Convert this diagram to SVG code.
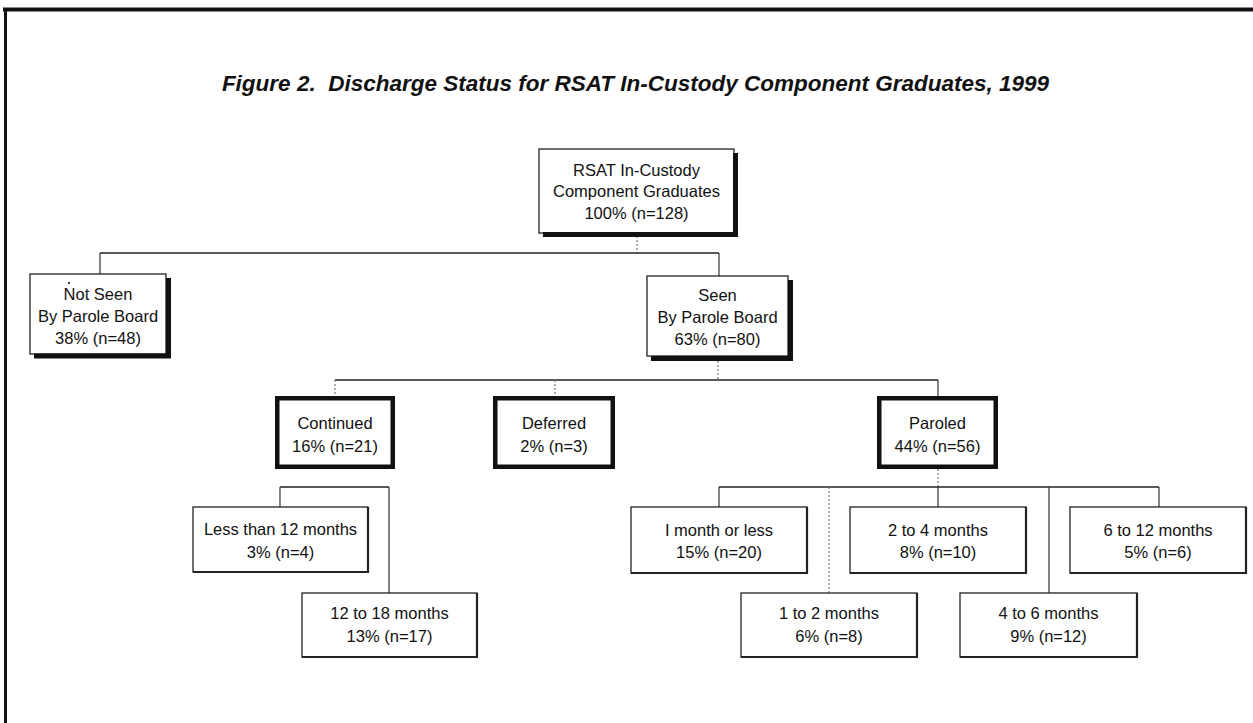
<svg xmlns="http://www.w3.org/2000/svg" width="1253" height="723" viewBox="0 0 1253 723">
  <style>
    .t { font-family: "Liberation Sans", Arial, sans-serif; font-size: 16.5px; fill: #111; text-anchor: middle; }
    .title { font-family: "Liberation Sans", Arial, sans-serif; font-size: 22.5px; font-weight: bold; font-style: italic; fill: #111; text-anchor: middle; white-space: pre; }
    .box { fill: #fff; stroke: #222; stroke-width: 1.3; }
    .thick { fill: #fff; stroke: #111; stroke-width: 4.5; }
    .shadow { fill: none; stroke: #111; stroke-width: 5; }
    .btm { fill: none; stroke: #222; stroke-width: 2.2; }
    .conn { fill: none; stroke: #222; stroke-width: 1.6; }
    .thin { fill: none; stroke: #333; stroke-width: 1.2; }
    .dot { fill: none; stroke: #777; stroke-width: 1.2; stroke-dasharray: 2 2; }
    .frame { fill: none; stroke: #111; }
  </style>
  <rect width="1253" height="723" fill="#fff"/>

  <g id="frame">
    <path class="frame" d="M3 9.5 H1253" stroke-width="4"/>
    <path class="frame" d="M5.5 8 V723" stroke-width="3"/>
  </g>

  <text class="title" x="635.5" y="91" xml:space="preserve">Figure 2.  Discharge Status for RSAT In-Custody Component Graduates, 1999</text>

  <g id="connectors">
    <path class="dot" d="M637 236 V253"/>
    <path class="conn" d="M100 253 H719"/>
    <path class="thin" d="M100 253 V274"/>
    <path class="thin" d="M719 253 V276"/>

    <path class="dot" d="M718 361 V380"/>
    <path class="conn" d="M335 380 H938"/>
    <path class="dot" d="M335 380 V396"/>
    <path class="dot" d="M555 380 V397"/>
    <path class="thin" d="M938 380 V396"/>

    <path class="conn" d="M280 487 H389"/>
    <path class="thin" d="M280 487 V507"/>
    <path class="thin" d="M389 487 V593"/>

    <path class="dot" d="M938 469 V487"/>
    <path class="conn" d="M719 487 H1159"/>
    <path class="thin" d="M719 487 V507"/>
    <path class="dot" d="M829 487 V593"/>
    <path class="thin" d="M938 487 V507"/>
    <path class="thin" d="M1049 487 V593"/>
    <path class="thin" d="M1159 487 V507"/>
  </g>

  <g id="node-root">
    <rect class="box" x="539" y="149" width="195" height="84"/>
    <path class="shadow" d="M543 234.5 H735.5 V153"/>
    <text class="t" x="636.5" y="176">RSAT In-Custody</text>
    <text class="t" x="636.5" y="197">Component Graduates</text>
    <text class="t" x="636.5" y="219">100% (n=128)</text>
  </g>

  <g id="node-not-seen">
    <rect class="box" x="30" y="274" width="136" height="80"/>
    <path class="shadow" d="M34 356 H168.5 V278"/>
    <circle cx="69" cy="283" r="1.1" fill="#111"/>
    <text class="t" x="98" y="300">Not Seen</text>
    <text class="t" x="98" y="322">By Parole Board</text>
    <text class="t" x="98" y="344">38% (n=48)</text>
  </g>

  <g id="node-seen">
    <rect class="box" x="647" y="276" width="141" height="80"/>
    <path class="shadow" d="M651 358.5 H790.5 V280"/>
    <text class="t" x="717.5" y="301">Seen</text>
    <text class="t" x="717.5" y="323">By Parole Board</text>
    <text class="t" x="717.5" y="345">63% (n=80)</text>
  </g>

  <g id="node-continued">
    <rect class="thick" x="277.25" y="398.25" width="115.5" height="68.5"/>
    <text class="t" x="335" y="429">Continued</text>
    <text class="t" x="335" y="452">16% (n=21)</text>
  </g>

  <g id="node-deferred">
    <rect class="thick" x="495.25" y="398.25" width="117.5" height="68.5"/>
    <text class="t" x="554" y="429">Deferred</text>
    <text class="t" x="554" y="452">2% (n=3)</text>
  </g>

  <g id="node-paroled">
    <rect class="thick" x="879.25" y="398.25" width="116.5" height="68.5"/>
    <text class="t" x="937.5" y="429">Paroled</text>
    <text class="t" x="937.5" y="452">44% (n=56)</text>
  </g>

  <g id="node-lt12">
    <rect class="box" x="193" y="507" width="175" height="65"/>
    <path class="btm" d="M193 572 H368 V507"/>
    <text class="t" x="280.5" y="535">Less than 12 months</text>
    <text class="t" x="280.5" y="558">3% (n=4)</text>
  </g>

  <g id="node-12to18">
    <rect class="box" x="302" y="593" width="175" height="64"/>
    <path class="btm" d="M302 657 H477 V593"/>
    <text class="t" x="389.5" y="619">12 to 18 months</text>
    <text class="t" x="389.5" y="642">13% (n=17)</text>
  </g>

  <g id="node-1month">
    <rect class="box" x="631" y="507" width="176" height="66"/>
    <path class="btm" d="M631 573 H807 V507"/>
    <text class="t" x="719" y="536">I month or less</text>
    <text class="t" x="719" y="558">15% (n=20)</text>
  </g>

  <g id="node-2to4">
    <rect class="box" x="850" y="507" width="176" height="66"/>
    <path class="btm" d="M850 573 H1026 V507"/>
    <text class="t" x="938" y="536">2 to 4 months</text>
    <text class="t" x="938" y="558">8% (n=10)</text>
  </g>

  <g id="node-6to12">
    <rect class="box" x="1070" y="507" width="176" height="66"/>
    <path class="btm" d="M1070 573 H1246 V507"/>
    <text class="t" x="1158" y="536">6 to 12 months</text>
    <text class="t" x="1158" y="558">5% (n=6)</text>
  </g>

  <g id="node-1to2">
    <rect class="box" x="741" y="593" width="176" height="64"/>
    <path class="btm" d="M741 657 H917 V593"/>
    <text class="t" x="829" y="619">1 to 2 months</text>
    <text class="t" x="829" y="642">6% (n=8)</text>
  </g>

  <g id="node-4to6">
    <rect class="box" x="960" y="593" width="177" height="64"/>
    <path class="btm" d="M960 657 H1137 V593"/>
    <text class="t" x="1048.5" y="619">4 to 6 months</text>
    <text class="t" x="1048.5" y="642">9% (n=12)</text>
  </g>
</svg>
